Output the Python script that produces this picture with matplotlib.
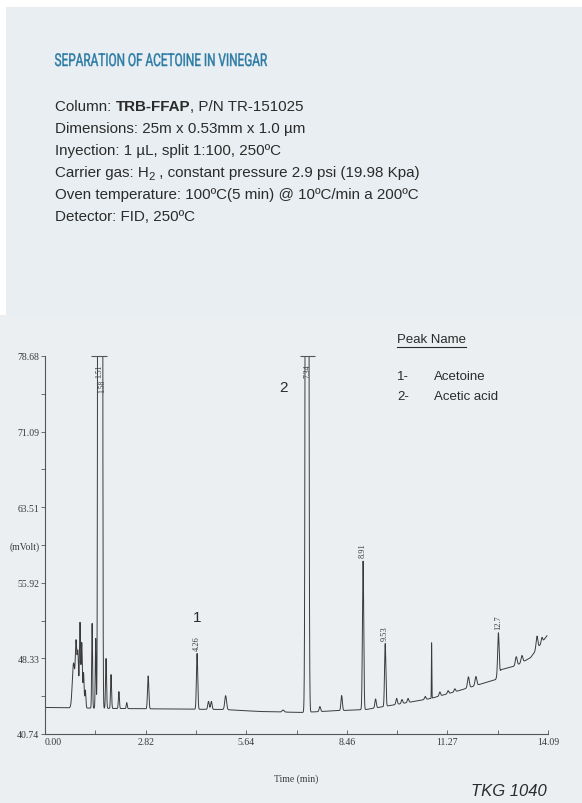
import numpy as np
import matplotlib
matplotlib.use("Agg")
import matplotlib.pyplot as plt
from matplotlib.patches import Rectangle, PathPatch
from matplotlib.textpath import TextPath
from matplotlib.font_manager import FontProperties
from matplotlib.transforms import Affine2D

# baseline of the FID trace (min, mVolt)
base_t = [0.0, 2.0, 5.0, 6.0, 7.2, 8.0, 9.0, 10.0, 10.8, 11.6, 12.62, 12.78, 13.2, 13.6, 14.06]
base_y = [43.4, 43.3, 43.2, 43.0, 42.9, 43.05, 43.2, 43.8, 44.3, 45.1, 46.2, 47.2, 47.6, 48.4, 50.6]

# peaks: retention time (min), height above baseline (mVolt), width (min)
peak_rt = [0.80, 0.87, 0.92, 0.98, 1.03, 1.08, 1.13, 1.32, 1.42, 1.51, 1.58, 1.71, 1.85, 2.07, 2.29,
           2.89, 4.26, 4.58, 4.66, 5.06, 6.67, 7.34, 7.70, 8.31, 8.91, 9.26, 9.53, 9.85, 10.0,
           10.17, 10.65, 10.83, 11.06, 11.29, 11.48, 11.86, 12.07, 12.70, 13.20, 13.36, 13.78, 13.92]
peak_h = [4.5, 6.0, 5.5, 8.5, 6.5, 3.5, 1.8, 8.5, 7.0, 400, 400, 5.0, 3.4, 1.7, 0.6,
          3.3, 5.6, 0.8, 0.8, 1.4, 0.2, 500, 0.5, 1.5, 14.9, 0.9, 6.3, 0.6, 0.4,
          0.4, 0.3, 5.6, 0.4, 0.3, 0.3, 1.1, 0.9, 4.2, 0.9, 0.7, 1.3, 0.5]
peak_w = [0.035, 0.02, 0.02, 0.016, 0.016, 0.015, 0.015, 0.012, 0.012, 0.018, 0.018, 0.014, 0.014, 0.014, 0.014,
          0.018, 0.018, 0.02, 0.02, 0.025, 0.03, 0.025, 0.02, 0.02, 0.018, 0.02, 0.018, 0.02, 0.02,
          0.02, 0.02, 0.006, 0.02, 0.02, 0.02, 0.025, 0.025, 0.02, 0.025, 0.025, 0.025, 0.02]

# retention times printed on the trace
label_rt = [1.51, 1.58, 4.26, 7.34, 8.91, 9.53, 12.7]
label_txt = ["1.51", "1.58", "4.26", "7.34", "8.91", "9.53", "12.7"]

# axis ticks
y_ticks = [78.68, 74.885, 71.09, 67.30, 63.51, 59.715, 55.92, 52.125, 48.33, 44.535, 40.74]
y_labels = ["78.68", "", "71.09", "", "63.51", "(mVolt)", "55.92", "", "48.33", "", "40.74"]
x_ticks = [0.0, 1.41, 2.82, 4.23, 5.64, 7.05, 8.46, 9.865, 11.27, 12.68, 14.09]
x_labels = ["0.00", "", "2.82", "", "5.64", "", "8.46", "", "11.27", "", "14.09"]

conditions = [
    [("Column: ", "normal", 0), ("TRB-FFAP", "bold", 0), (", P/N TR-151025", "normal", 0)],
    [("Dimensions: 25m x 0.53mm x 1.0 µm", "normal", 0)],
    [("Inyection: 1 µL, split 1:100, 250ºC", "normal", 0)],
    [("Carrier gas: H", "normal", 0), ("2", "normal", 1), (" , constant pressure 2.9 psi (19.98 Kpa)", "normal", 0)],
    [("Oven temperature: 100ºC(5 min) @ 10ºC/min a 200ºC", "normal", 0)],
    [("Detector: FID, 250ºC", "normal", 0)],
]

W, H = 582, 804
fig = plt.figure(figsize=(W / 100, H / 100), dpi=100)
fig.patch.set_facecolor("white")

# pixel-space overlay for panels and header text
bg = fig.add_axes([0, 0, 1, 1], zorder=0)
bg.set_xlim(0, W)
bg.set_ylim(H, 0)
bg.axis("off")
bg.add_patch(Rectangle((6, 8), W - 6, 308, color="#e8eef1", lw=0))
bg.add_patch(Rectangle((0, 316), W, H - 316, color="#ebeff2", lw=0))

# condensed title
fp = FontProperties(family="Roboto")
tp = TextPath((0, 0), "SEPARATION OF ACETOINE IN VINEGAR", size=10, prop=fp)
ext = tp.get_extents()
sx = 212 / ext.width
sy = 12.5 / 7.1
tr = Affine2D().scale(sx, -sy).translate(55 - ext.x0 * sx, 67) + bg.transData
bg.add_patch(PathPatch(tp, transform=tr, facecolor="#2a7aa5", edgecolor="#2a7aa5", lw=0.3))

renderer = fig.canvas.get_renderer()
sans = "Liberation Sans"
row_y = [107, 129, 151, 173, 195, 217]
for yy, parts in zip(row_y, conditions):
    x = 55
    for txt, wt, sub in parts:
        t = bg.text(x, yy + (4 if sub else 0), txt, fontsize=8.2 if sub else 10.9,
                    fontweight=wt, family=sans, color="#2b2b2b", va="center", ha="left")
        x += t.get_window_extent(renderer).width

# chromatogram trace
t = np.linspace(0, 14.06, 8000)
signal = np.interp(t, base_t, base_y)
for rt, h, w in zip(peak_rt, peak_h, peak_w):
    signal = signal + h * np.exp(-0.5 * ((t - rt) / w) ** 2)

ax = fig.add_axes([45 / W, 1 - 735 / H, 503 / W, 378 / H], zorder=1)
ax.set_facecolor("none")
ax.plot(t, signal, color="#3a3a3a", lw=0.7)
ax.set_xlim(0, 14.09)
ax.set_ylim(40.74, 78.68)
for s in ["top", "right"]:
    ax.spines[s].set_visible(False)
for s in ["left", "bottom"]:
    ax.spines[s].set_color("#555555")
    ax.spines[s].set_linewidth(0.8)

serif = "Liberation Serif"
ax.set_yticks(y_ticks, y_labels)
ax.set_xticks(x_ticks, x_labels)
ax.tick_params(axis="y", direction="out", length=3, width=0.6, colors="#555555",
               labelsize=7, labelcolor="#3a3a3a", pad=1)
ax.tick_params(axis="x", direction="in", length=3, width=0.6, colors="#555555",
               labelsize=7, labelcolor="#3a3a3a", pad=2)
for lab in ax.get_xticklabels() + ax.get_yticklabels():
    lab.set_family(serif)
ax.get_xticklabels()[0].set_horizontalalignment("left")
ax.set_xlabel("Time (min)", family=serif, fontsize=7, color="#3a3a3a", labelpad=20)

# off-scale caps
ax.hlines(78.68, 1.29, 1.74, color="#555555", lw=0.8, clip_on=False)
ax.hlines(78.68, 7.14, 7.57, color="#555555", lw=0.8, clip_on=False)

# retention time labels; the two off-scale 1.5x peaks are stacked
label_top = {"1.51": 77.9, "1.58": 76.4, "7.34": 77.9}
for rt, txt in zip(label_rt, label_txt):
    idx = np.argmin(np.abs(t - rt))
    top = signal[idx]
    if top > 78.68:
        ax.text(rt + 0.02, label_top[txt], txt, rotation=90, ha="center", va="top",
                family=serif, fontsize=5.5, color="#3a3a3a")
    else:
        ax.text(rt, top + 0.4, txt, rotation=90, ha="center", va="bottom",
                family=serif, fontsize=6, color="#3a3a3a")

ax.text(4.26, 52.5, "1", ha="center", va="center", family=sans, fontsize=11, color="#2b2b2b")
ax.text(6.68, 75.6, "2", ha="center", va="center", family=sans, fontsize=11, color="#2b2b2b")

# peak name table
pk = bg.text(397, 340, "Peak Name", family=sans, fontsize=9.5, color="#2b2b2b", va="center")
wpk = pk.get_window_extent(renderer).width
bg.plot([397, 397 + wpk], [348, 348], color="#2b2b2b", lw=0.8)
bg.text(397, 377, "1-", family=sans, fontsize=9.5, color="#2b2b2b", va="center")
bg.text(434, 377, "Acetoine", family=sans, fontsize=9.5, color="#2b2b2b", va="center")
bg.text(397, 397, "2-", family=sans, fontsize=9.5, color="#2b2b2b", va="center")
bg.text(434, 397, "Acetic acid", family=sans, fontsize=9.5, color="#2b2b2b", va="center")

bg.text(547, 792, "TKG 1040", family=sans, style="italic", fontsize=12, color="#2b2b2b",
        va="center", ha="right")

fig.savefig("out.png", dpi=100)
